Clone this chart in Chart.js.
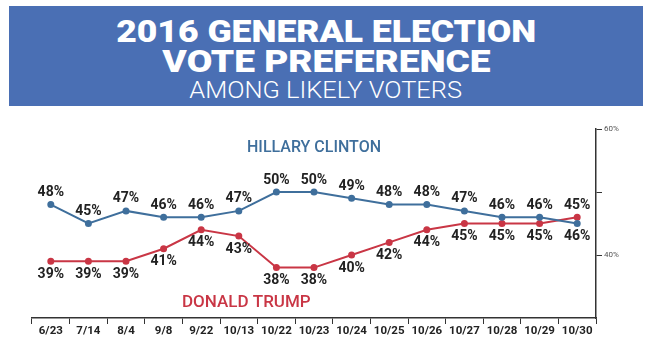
<!DOCTYPE html>
<html>
<head>
<meta charset="utf-8">
<script src="https://cdn.jsdelivr.net/npm/chart.js@4.4.1/dist/chart.umd.min.js"></script>
<style>
  html, body { margin: 0; padding: 0; background: #fff; }
  #wrap { position: relative; width: 668px; height: 344px; overflow: hidden; }
  #banner {
    position: absolute; left: 9px; top: 6px; width: 634px; height: 100px;
    background: #4a6fb4; color: #fff; text-align: center;
    font-family: Roboto, "Noto Sans", sans-serif;
  }
  #banner div span { display: inline-block; }
  #banner .t1, #banner .t2 {
    font-weight: 900; font-size: 32px; line-height: 30px; letter-spacing: 0;
  }
  #banner .t1 span { transform: scaleX(1.11); }
  #banner .t2 span { transform: scaleX(1.16); }
  #banner .t1 { margin-top: 10px; }
  #banner .t3 { font-weight: 300; font-size: 24px; line-height: 28px; }
  #banner .t3 span { transform: scaleX(1.06); }
  #chart { position: absolute; left: 0; top: 0; }
</style>
</head>
<body>
<div id="wrap">
  <canvas id="chart" width="668" height="344"></canvas>
  <div id="banner">
    <div class="t1"><span>2016 GENERAL ELECTION</span></div>
    <div class="t2"><span>VOTE PREFERENCE</span></div>
    <div class="t3"><span>AMONG LIKELY VOTERS</span></div>
  </div>
</div>
<script>
const dates = ['6/23', '7/14', '8/4', '9/8', '9/22', '10/13', '10/22', '10/23', '10/24', '10/25', '10/26', '10/27', '10/28', '10/29', '10/30'];
const clinton = [48, 45, 47, 46, 46, 47, 50, 50, 49, 48, 48, 47, 46, 46, 45];
const trump = [39, 39, 39, 41, 44, 43, 38, 38, 40, 42, 44, 45, 45, 45, 46];
const yTicks = [40, 60];

const blue = '#3f6f9c';
const red = '#c93645';

// draws the % labels and the candidate names
const labelPlugin = {
    id: 'labels',
    afterDatasetsDraw(chart) {
        const ctx = chart.ctx;
        const xs = chart.scales.x;
        const ys = chart.scales.y;
        const top = chart.getDatasetMeta(0).data;
        const bottom = chart.getDatasetMeta(1).data;
        ctx.save();
        ctx.font = 'bold 14px Roboto, sans-serif';
        ctx.fillStyle = '#222';
        ctx.textAlign = 'center';
        // clinton above both lines, trump below both lines
        top.forEach((pt, j) => {
            ctx.textBaseline = 'bottom';
            ctx.fillText(clinton[j] + '%', pt.x, Math.min(pt.y, bottom[j].y) - 5);
        });
        bottom.forEach((pt, j) => {
            ctx.textBaseline = 'top';
            ctx.fillText(trump[j] + '%', pt.x, Math.max(pt.y, top[j].y) + 6);
        });
        ctx.font = '500 16px Roboto, sans-serif';
        ctx.textBaseline = 'middle';
        ctx.fillStyle = blue;
        ctx.fillText('HILLARY CLINTON', xs.getPixelForValue(7), ys.getPixelForValue(57));
        ctx.fillStyle = red;
        ctx.font = '500 17px Roboto, sans-serif';
        ctx.fillText('DONALD TRUMP', xs.getPixelForValue(5.2), ys.getPixelForValue(32.4));
        ctx.restore();
    }
};

new Chart(document.getElementById('chart'), {
    type: 'line',
    data: {
        labels: dates,
        datasets: [{
            label: 'Hillary Clinton',
            data: clinton,
            borderColor: blue,
            backgroundColor: blue,
            borderWidth: 2,
            pointRadius: 2.5,
            tension: 0
        }, {
            label: 'Donald Trump',
            data: trump,
            borderColor: red,
            backgroundColor: red,
            borderWidth: 2,
            pointRadius: 2.5,
            tension: 0
        }]
    },
    options: {
        responsive: false,
        animation: false,
        layout: {
            padding: { left: 32, top: 129, right: 0, bottom: 0 }
        },
        plugins: {
            legend: { display: false },
            tooltip: { enabled: false }
        },
        scales: {
            x: {
                offset: true,
                grid: { offset: true, drawOnChartArea: false, tickLength: 6, color: '#333' },
                border: { color: '#333', width: 1.5 },
                ticks: { color: '#222', font: { family: 'Roboto, sans-serif', size: 11.5, weight: 'bold' }, padding: 0, maxRotation: 0, autoSkip: false },
                afterFit(scale) { scale.height = 26; }
            },
            y: {
                position: 'right',
                min: 30,
                max: 60,
                grid: { drawOnChartArea: false, tickLength: 6, color: '#333' },
                border: { color: '#333', width: 1.5 },
                ticks: {
                    stepSize: 10,
                    color: '#555',
                    padding: 2,
                    font: { family: 'Roboto, sans-serif', size: 8 },
                    callback(v) {
                        if (v === 30) return null;
                        return yTicks.includes(v) ? v + '%' : '';
                    }
                },
                afterFit(scale) { scale.width = 72; }
            }
        }
    },
    plugins: [labelPlugin]
});
</script>
</body>
</html>
